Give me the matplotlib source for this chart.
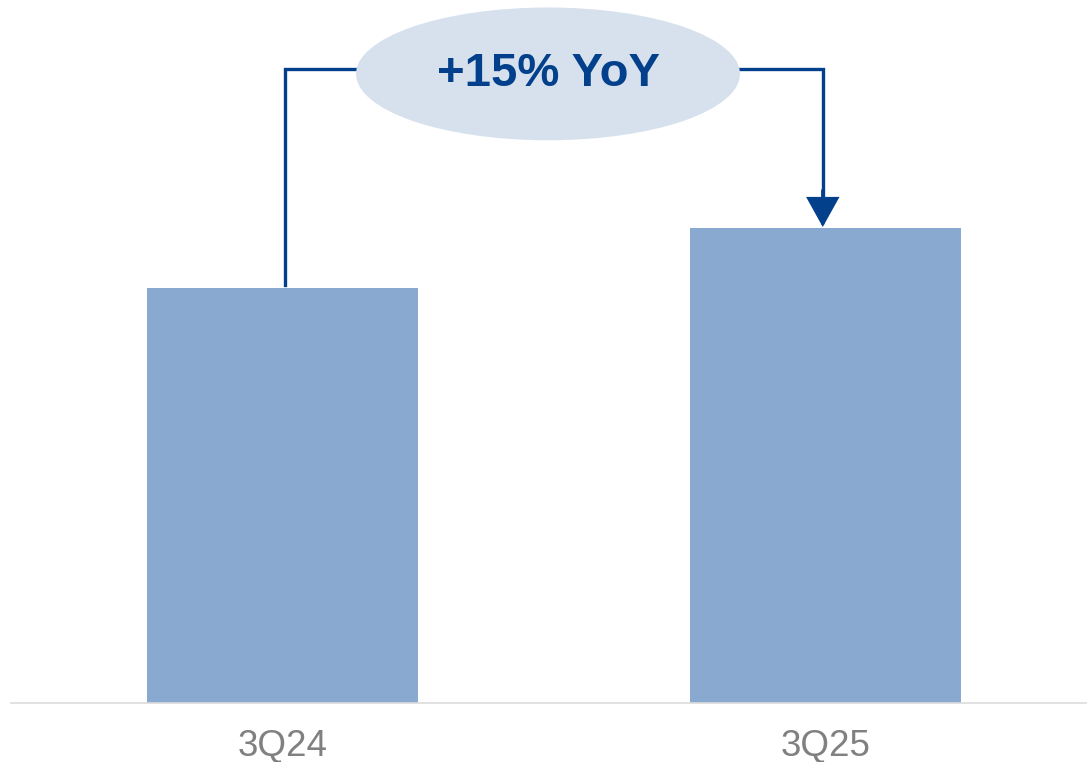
import matplotlib
matplotlib.use("Agg")
from matplotlib import pyplot as plt
from matplotlib.patches import Ellipse

plt.rcParams["font.family"] = ["Liberation Sans", "DejaVu Sans"]

# data
quarters = ["3Q24", "3Q25"]
values = [100.0, 114.5]
growth_label = "+15% YoY"

bar_color = "#8aa9d0"
line_color = "#03408c"
bubble_color = "#d7e1ee"
label_color = "#808080"

fig = plt.figure(figsize=(10.87, 7.62), dpi=100)
ax = fig.add_axes([0.0101, 0.0774, 0.9899, 0.9226])

x = range(len(quarters))
ax.bar(x, values, width=0.5, color=bar_color, zorder=2)

ax.set_xlim(-0.5, 1.4816)
ax.set_ylim(0, 169.4)

# bracket from first bar to second, passing behind the bubble
top = 152.8
x0, x1 = 0.005, 0.995
ax.plot([x0, x0, x1, x1], [values[0] + 0.7, top, top, values[1] + 8],
        color=line_color, lw=2.4, solid_joinstyle="miter", zorder=3)
ax.annotate("", xy=(x1, values[1] + 0.2), xytext=(x1, values[1] + 9),
            arrowprops=dict(arrowstyle="-|>,head_length=0.9,head_width=0.5",
                            mutation_scale=20, color=line_color, lw=2.4,
                            shrinkA=0, shrinkB=0, joinstyle="miter"),
            zorder=3)

bubble = Ellipse((0.489, 151.6), width=0.707, height=32.0,
                 facecolor=bubble_color, edgecolor="none", zorder=4)
ax.add_patch(bubble)
ax.text(0.489, 151.6, growth_label, ha="center", va="center",
        fontsize=34, fontweight="bold", color=line_color, zorder=5)

ax.set_xticks(list(x), quarters)
ax.tick_params(axis="x", length=0, pad=19, labelsize=26.5, labelcolor=label_color)
ax.set_yticks([])
for side in ["top", "left", "right"]:
    ax.spines[side].set_visible(False)
ax.spines["bottom"].set_color("#dcdcdc")
ax.spines["bottom"].set_linewidth(1.2)

fig.savefig("out.png", dpi=100)
